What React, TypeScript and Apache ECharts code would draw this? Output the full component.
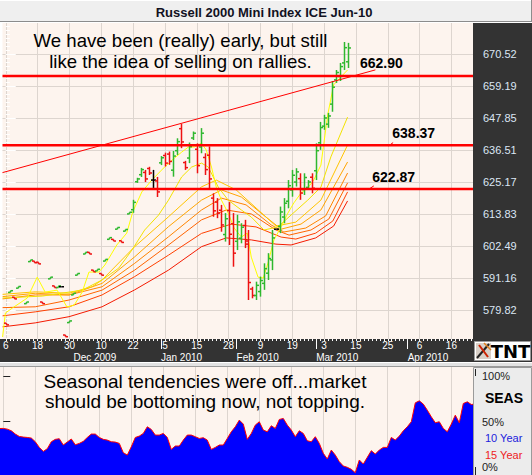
import React, { useEffect, useRef } from "react";
import * as echarts from "echarts";

// ---------- data ----------
const dayLabels = ["6", "18", "30", "10", "22", "5", "15", "28", "9", "19", "3", "15", "25", "6", "16"];
const dayLabelIdx = [0, 8, 16, 24, 32, 40, 48, 56, 64, 72, 80, 88, 96, 104, 112];
const monthLabels = ["Dec 2009", "Jan 2010", "Feb 2010", "Mar 2010", "Apr 2010"];
const monthIdx = [17, 39, 58, 78, 101];
const priceTicks = [579.82, 591.16, 602.49, 613.83, 625.17, 636.51, 647.85, 659.19, 670.52];
const seasTicks = [0, 50, 100];
const levels = [662.9, 638.37, 622.87];

// [index, open, high, low, close]
const ohlc = [
  [0, 575.3, 575.3, 574.7, 574.7], [1, 586.2, 586.8, 586.2, 586.8], [2, 584.5, 584.5, 583.9, 583.9],
  [3, 587.7, 588.3, 587.7, 588.3], [5, 582.2, 582.8, 582.2, 582.8], [6, 597.1, 597.7, 597.1, 597.7],
  [7, 597.3, 597.3, 596.7, 596.7], [8, 596.9, 596.9, 596.3, 596.3], [9, 582.8, 582.8, 582.2, 582.2],
  [11, 591.0, 591.6, 591.0, 591.6], [12, 588.5, 588.5, 587.9, 587.9], [13, 587.9, 588.5, 587.9, 588.5],
  [14, 588.2, 588.2, 588.2, 588.2], [15, 571.1, 571.1, 570.5, 570.5], [16, 575.5, 576.1, 575.5, 576.1],
  [17, 585.3, 585.9, 585.3, 585.9], [18, 592.3, 592.9, 592.3, 592.9], [20, 599.8, 600.4, 599.8, 600.4],
  [21, 600.4, 600.4, 599.8, 599.8], [22, 594.1, 594.1, 593.5, 593.5], [23, 593.8, 594.4, 593.8, 594.4],
  [24, 592.9, 592.9, 592.3, 592.3], [25, 597.3, 597.9, 597.3, 597.9], [26, 605.0, 605.6, 605.0, 605.6],
  [27, 605.0, 605.0, 604.4, 604.4], [28, 608.6, 609.2, 608.6, 609.2], [29, 604.5, 604.5, 603.9, 603.9],
  [30, 607.9, 608.5, 607.9, 608.5], [31, 614.0, 614.6, 614.0, 614.6],
  [32, 615.5, 619.0, 614.4, 618.1], [33, 625.4, 626.8, 625.0, 626.4], [34, 627.9, 630.3, 627.1, 629.7],
  [35, 628.7, 629.6, 625.3, 626.4], [36, 630.1, 630.7, 627.8, 628.5], [37, 626.0, 629.6, 623.2, 626.0],
  [38, 625.7, 627.1, 620.0, 621.8], [39, 632.1, 634.5, 631.3, 633.9], [40, 634.7, 635.7, 630.8, 632.0],
  [41, 635.2, 636.1, 631.4, 632.6], [42, 629.5, 636.3, 627.2, 634.5], [43, 636.4, 640.8, 634.9, 639.6],
  [44, 644.2, 645.9, 637.3, 639.5], [45, 632.2, 632.8, 629.6, 630.4], [46, 633.8, 639.3, 632.0, 637.8],
  [47, 640.9, 643.2, 640.2, 642.6], [48, 636.9, 639.0, 628.4, 631.1], [49, 637.7, 644.4, 635.5, 642.6],
  [50, 634.0, 635.5, 627.8, 629.7], [51, 634.8, 637.9, 622.5, 626.4], [52, 619.6, 621.3, 613.0, 615.1],
  [53, 618.2, 619.6, 612.5, 614.3], [54, 615.3, 617.2, 607.7, 610.1], [55, 606.7, 614.3, 604.2, 612.3],
  [56, 615.2, 618.2, 603.0, 606.8], [57, 610.5, 614.3, 595.3, 600.1], [58, 604.3, 613.7, 601.2, 611.2],
  [59, 605.4, 610.7, 603.6, 609.3], [60, 609.9, 611.9, 601.9, 604.4], [61, 603.3, 608.3, 583.5, 589.7],
  [62, 587.4, 588.2, 584.1, 585.1], [63, 585.1, 590.0, 583.5, 588.7], [64, 586.5, 591.8, 584.7, 590.4],
  [65, 589.4, 596.5, 587.1, 594.6], [66, 593.0, 600.1, 590.6, 598.2], [67, 597.7, 608.3, 594.1, 605.5],
  [68, 608.6, 608.6, 608.6, 608.6], [69, 609.6, 616.6, 607.2, 614.7], [70, 612.9, 619.6, 610.7, 617.8],
  [71, 618.5, 626.0, 616.0, 624.0], [72, 622.5, 629.6, 620.1, 627.7], [73, 625.3, 630.2, 623.7, 628.9],
  [74, 626.5, 628.4, 619.0, 621.4], [75, 622.6, 628.4, 620.7, 626.9], [76, 623.4, 626.0, 622.5, 625.3],
  [77, 627.0, 628.4, 621.3, 623.1], [78, 629.3, 639.0, 626.0, 636.4], [79, 639.2, 646.6, 636.7, 644.6],
  [80, 645.1, 649.1, 643.8, 648.0], [81, 645.8, 649.8, 644.5, 648.7], [82, 652.9, 661.1, 650.2, 658.9],
  [83, 661.5, 665.0, 660.4, 664.1], [84, 662.7, 667.5, 661.1, 666.2], [85, 667.5, 674.9, 665.0, 672.9],
  [86, 667.9, 674.6, 665.7, 672.8],
];

// moving averages, [index, price]
const ma1 = [[-0.8, 570.4], [-0.1, 578.9], [1.7, 580.7], [5.4, 584.2], [7.9, 591.6], [9.9, 586.3], [12.9, 587.0],
  [15.4, 581.0], [17.2, 581.7], [19.2, 586.3], [20.9, 593.4], [23.4, 593.4], [24.9, 595.9], [27.9, 603.0],
  [30.4, 607.2], [31.9, 614.7], [34.2, 621.8], [36.7, 626.0], [39.9, 630.6], [42.4, 633.8], [44.2, 635.9],
  [45.9, 637.7], [47.4, 637.7], [49.2, 639.1], [50.4, 636.6], [51.7, 630.6], [52.9, 623.5], [54.2, 618.9],
  [55.9, 614.3], [57.4, 609.0], [59.2, 605.8], [60.7, 607.2], [61.7, 598.7], [63.4, 591.6], [64.7, 591.3],
  [65.9, 596.6], [67.4, 604.8], [69.2, 609.4], [70.9, 614.3], [72.4, 617.9], [74.2, 621.4], [75.9, 623.2],
  [77.4, 626.0], [79.2, 631.3], [80.9, 649.0], [82.4, 659.7], [84.2, 662.5], [85.9, 665.0]];
const ma2 = [[-0.8, 584.2], [9.2, 584.9], [19.2, 587.0], [24.2, 590.6], [28.4, 594.8], [31.7, 601.2], [34.9, 608.3],
  [38.4, 613.6], [40.9, 618.9], [44.2, 627.1], [46.7, 630.6], [49.2, 632.0], [50.9, 630.6], [53.4, 623.5],
  [55.9, 618.9], [59.2, 615.4], [61.7, 612.9], [64.9, 608.3], [68.4, 609.4], [71.7, 613.6], [75.9, 618.9],
  [79.2, 623.5], [81.7, 634.2], [85.9, 648.3]];
const ma3 = [[-0.8, 585.5], [7.4, 586.4], [15.9, 585.9], [21.7, 588.2], [24.2, 590.6], [32.4, 602.4], [40.9, 613.0],
  [49.2, 623.6], [52.9, 626.0], [57.9, 622.5], [62.9, 616.1], [67.9, 609.7], [72.9, 611.1], [79.2, 618.9], [85.9, 638.4]];
const ma4 = [[-0.8, 584.7], [7.4, 585.9], [15.9, 585.3], [24.2, 589.4], [32.4, 598.8], [40.9, 609.5], [49.2, 618.9],
  [54.2, 622.5], [59.2, 620.0], [65.4, 612.9], [69.2, 608.6], [74.2, 610.4], [79.2, 615.4], [85.9, 632.4]];
const ma5 = [[-0.8, 583.9], [7.4, 585.3], [15.9, 585.3], [24.2, 588.2], [32.4, 596.5], [40.9, 605.9], [49.2, 615.4],
  [54.2, 619.6], [60.4, 617.2], [66.7, 610.1], [69.9, 607.6], [75.4, 609.0], [80.4, 613.3], [85.9, 628.5]];
const ma6 = [[-0.8, 580.8], [7.4, 581.1], [15.9, 583.5], [24.2, 587.0], [32.4, 594.1], [40.9, 603.0], [49.2, 611.9],
  [55.4, 615.4], [61.7, 614.0], [67.9, 608.3], [71.2, 606.5], [76.7, 608.3], [81.2, 612.2], [85.9, 625.0]];
const ma7 = [[-0.8, 577.9], [7.4, 579.3], [15.9, 581.1], [24.2, 585.3], [32.4, 591.8], [40.9, 599.4], [49.2, 607.1],
  [56.7, 610.4], [62.9, 609.4], [69.2, 605.8], [72.9, 605.1], [77.9, 607.2], [82.2, 611.5], [85.9, 621.8]];
const ma8 = [[-0.8, 574.0], [7.4, 575.4], [15.9, 577.6], [24.2, 581.1], [32.4, 587.1], [40.9, 594.1], [49.2, 602.4],
  [55.4, 605.5], [61.7, 604.8], [67.9, 603.3], [71.7, 603.0], [77.9, 605.5], [82.4, 609.7], [85.9, 618.6]];
const maColors = ["#ffff00", "#f2e200", "#ffc400", "#ffa400", "#ff8400", "#ff6400", "#ff4000", "#f41a00"];

// trendline [index, price]
const trend = [[-0.825, 628.64], [92.9, 665.03]];
const tick638 = [[96.2, 638.1], [97.35, 639.27]];
const tick622 = [[91.25, 622.76], [92.5, 623.93]];

// seasonal (percent), one per bar
const seasonal = [
  [-0.825, 42.5], [0, 42.6], [1, 41.8], [2, 40.0], [3, 36.4], [4, 33.8], [5, 33.1], [6, 32.7], [7, 32.0], [8, 28.0], [9, 21.8],
  [10, 17.4], [11, 20.4], [12, 28.0], [13, 30.6], [14, 31.3], [15, 24.4], [16, 27.7], [17, 31.0], [18, 24.7], [19, 26.2],
  [20, 28.4], [21, 32.7], [22, 36.4], [23, 36.4], [24, 32.7], [25, 30.6], [26, 29.8], [27, 28.0], [28, 27.6], [29, 26.2],
  [30, 16.0], [31, 13.4], [32, 22.5], [33, 32.7], [34, 34.2], [35, 37.1], [36, 44.4], [37, 41.5], [38, 35.3], [39, 35.3],
  [40, 37.1], [41, 32.7], [42, 19.6], [43, 23.3], [44, 23.3], [45, 29.8], [46, 35.3], [47, 35.3], [48, 33.5], [49, 31.6],
  [50, 32.4], [51, 29.8], [52, 19.6], [53, 21.8], [54, 24.4], [55, 24.4], [56, 31.6], [57, 38.9], [58, 44.4], [59, 51.7],
  [60, 47.3], [61, 30.6], [62, 37.1], [63, 46.2], [64, 49.9], [65, 40.8], [66, 38.9], [67, 45.5], [68, 42.6], [69, 52.4],
  [70, 53.5], [71, 46.2], [72, 40.8], [73, 33.5], [74, 40.0], [75, 37.1], [76, 29.1], [77, 28.0], [78, 33.5], [79, 26.2],
  [80, 15.3], [81, 9.1], [82, 18.9], [83, 13.4], [84, 6.2], [85, 1.4], [86, 0.0], [87, -2.2], [88, -5.9], [89, 8.0],
  [90, 3.6], [91, 10.9], [92, 18.2], [93, 14.5], [94, 18.9], [95, 21.8], [96, 21.8], [97, 32.7], [98, 29.8], [99, 34.2],
  [100, 40.0], [101, 44.4], [102, 49.9], [103, 70.6], [104, 72.8], [105, 69.2], [106, 62.6], [107, 55.3], [108, 48.8], [109, 49.9],
  [110, 42.6], [111, 38.9], [112, 47.3], [113, 57.1], [114, 48.8], [115, 69.9], [116, 71.7], [117, 68.8], [117.425, 69.0],
];

// ---------- layout ----------
const XMIN = -0.825, XMAX = 117.425;
const PMIN = 569.69, PMAX = 681.64;
const SMIN = -8.43, SMAX = 109.86;
const FONT = '"Liberation Sans", Arial, sans-serif';
const BG = "#fdf4ee";
const GRIDC = "#ddd5cf";

const allBars = Array.from({ length: 118 }, (_, i) => i);
const minorStep = (priceTicks[1] - priceTicks[0]) / 8;
const minorTicks: number[] = [];
for (let k = -16; k < 80; k++) {
  const v = priceTicks[0] + k * minorStep;
  if (v > PMIN && v < PMAX) minorTicks.push(+v.toFixed(3));
}

export default function App() {
  const ref = useRef<HTMLDivElement>(null);
  useEffect(() => {
    const chart = echarts.init(ref.current!, null, { renderer: "svg" });
    const maSeries = [ma1, ma2, ma3, ma4, ma5, ma6, ma7, ma8].map((d, k) => ({
      type: "line", xAxisIndex: 0, yAxisIndex: 0, data: d, symbol: "none", z: 2 + (k === 0 ? 1 : 0),
      lineStyle: { color: maColors[k], width: 1 }, silent: true,
    })).reverse();
    const levelSeries = levels.map((lv) => ({
      type: "line", xAxisIndex: 0, yAxisIndex: 0, data: [[XMIN, lv], [XMAX, lv]], symbol: "none", z: 5,
      lineStyle: { color: "#ff0000", width: 2.5 }, silent: true,
    }));
    const thin = (d: number[][]) => ({
      type: "line", xAxisIndex: 0, yAxisIndex: 0, data: d, symbol: "none", z: 5,
      lineStyle: { color: "#ff0000", width: 1 }, silent: true,
    });
    const txt = (x: number, y: number, text: string, font: string, fill = "#000", align = "left") => ({
      type: "text", x, y, z: 20,
      style: { text, font, fill, textAlign: align, textVerticalAlign: "middle" },
    });
    chart.setOption({
      animation: false,
      backgroundColor: "#ffffff",
      grid: [
        { left: 0, top: 23, width: 473, height: 316, show: true, backgroundColor: BG, borderWidth: 0 },
        { left: 0, top: 367, width: 473, height: 108, show: true, backgroundColor: BG, borderWidth: 0 },
      ],
      xAxis: [
        { // day labels + small ticks
          type: "value", gridIndex: 0, min: XMIN, max: XMAX, position: "bottom",
          axisLine: { show: false },
          axisTick: { show: true, customValues: allBars, length: 2, lineStyle: { color: "#ffffff" } },
          axisLabel: {
            customValues: dayLabelIdx, margin: 1, color: "#ffffff", fontSize: 10, lineHeight: 10, fontFamily: FONT,
            formatter: (v: number) => dayLabels[dayLabelIdx.indexOf(Math.round(v))] ?? "",
          },
          splitLine: { show: false },
        },
        { // month labels
          type: "value", gridIndex: 0, min: XMIN, max: XMAX, position: "bottom",
          axisLine: { show: false },
          axisTick: { show: true, customValues: monthIdx.slice(1), length: 10, lineStyle: { color: "#ffffff" } },
          axisLabel: {
            customValues: monthIdx, margin: 13, color: "#ffffff", fontSize: 10, lineHeight: 10, fontFamily: FONT, align: "left",
            formatter: (v: number) => monthLabels[monthIdx.indexOf(Math.round(v))] ?? "",
          },
          splitLine: { show: false },
        },
        { // vertical grid lines
          type: "value", gridIndex: 0, min: XMIN, max: XMAX, position: "top",
          axisLine: { show: false }, axisTick: { show: false, customValues: dayLabelIdx },
          axisLabel: { show: false, customValues: dayLabelIdx },
          splitLine: { show: true, lineStyle: { color: GRIDC, width: 1 } },
        },
        { // seasonal x
          type: "value", gridIndex: 1, min: XMIN, max: XMAX,
          axisLine: { show: false }, axisTick: { show: false, customValues: dayLabelIdx },
          axisLabel: { show: false, customValues: dayLabelIdx },
          splitLine: { show: true, lineStyle: { color: GRIDC, width: 1 } },
        },
      ],
      yAxis: [
        {
          type: "value", gridIndex: 0, min: PMIN, max: PMAX, position: "right",
          axisLine: { show: false },
          axisTick: { show: true, customValues: priceTicks, length: 10, lineStyle: { color: "#ffffff" } },
          axisLabel: {
            customValues: priceTicks, margin: 10, color: "#dce6f4", fontSize: 11, fontFamily: FONT,
            formatter: (v: number) => v.toFixed(2),
          },
          splitLine: { show: true, lineStyle: { color: GRIDC, width: 1 } },
        },
        {
          type: "value", gridIndex: 0, min: PMIN, max: PMAX, position: "right",
          axisLine: { show: false },
          axisTick: { show: true, customValues: minorTicks, length: 4, lineStyle: { color: "#ffffff" } },
          axisLabel: { show: false, customValues: minorTicks },
          splitLine: { show: false },
        },
        {
          type: "value", gridIndex: 1, min: SMIN, max: SMAX, position: "right",
          axisLine: { show: false },
          axisTick: { show: true, customValues: seasTicks, length: 7, lineStyle: { color: "#222222" } },
          axisLabel: {
            customValues: seasTicks, margin: 9, color: "#222222", fontSize: 11, fontFamily: FONT,
            formatter: (v: number) => `${v}%`,
          },
          splitLine: { show: false },
        },
      ],
      series: [
        ...maSeries,
        {
          type: "custom", xAxisIndex: 0, yAxisIndex: 0, z: 4, data: ohlc, silent: true,
          encode: { x: 0, y: [1, 2, 3, 4] },
          renderItem: (_p: any, api: any) => {
            const i = api.value(0), o = api.value(1), h = api.value(2), l = api.value(3), c = api.value(4);
            const ph = api.coord([i, h]), pl = api.coord([i, l]), po = api.coord([i, o]), pc = api.coord([i, c]);
            const color = c > o ? "#2fb82f" : c < o ? "#ee1111" : "#000000";
            const x = Math.round(ph[0]) + 0.5;
            const st = { stroke: color, lineWidth: 1.5 };
            const children: any[] = [];
            if (Math.abs(pl[1] - ph[1]) > 1) children.push({ type: "line", shape: { x1: x, y1: ph[1], x2: x, y2: pl[1] }, style: st });
            children.push({ type: "line", shape: { x1: x - 2.5, y1: po[1], x2: x, y2: po[1] }, style: st });
            children.push({ type: "line", shape: { x1: x, y1: pc[1], x2: x + 2.5, y2: pc[1] }, style: st });
            return { type: "group", children };
          },
        },
        ...levelSeries,
        thin(trend), thin(tick638), thin(tick622),
        {
          type: "line", xAxisIndex: 3, yAxisIndex: 2, data: seasonal, symbol: "none", silent: true,
          lineStyle: { color: "#ff0000", width: 1 },
          areaStyle: { color: "#0000ff", opacity: 1, origin: "start" },
        },
      ],
      graphic: [
        { type: "rect", z: -1, shape: { x: 0, y: 0, width: 532, height: 22 }, style: { fill: "#efefef" } },
        { type: "line", z: -1, shape: { x1: 0, y1: 0.5, x2: 532, y2: 0.5 }, style: { stroke: "#ffffff" } },
        { type: "line", z: -1, shape: { x1: 0, y1: 21.5, x2: 532, y2: 21.5 }, style: { stroke: "#8c8c8c" } },
        { type: "line", z: -1, shape: { x1: 531.5, y1: 0, x2: 531.5, y2: 22 }, style: { stroke: "#8c8c8c" } },
        txt(264, 12.5, "Russell 2000 Mini Index ICE Jun-10", `bold 13px ${FONT}`, "#111122", "center"),
        { type: "rect", z: -1, shape: { x: 473, y: 23, width: 59, height: 339 }, style: { fill: "#333333" } },
        { type: "rect", z: -1, shape: { x: 0, y: 339, width: 473, height: 23 }, style: { fill: "#333333" } },
        { type: "rect", z: -1, shape: { x: 0, y: 362, width: 532, height: 5 }, style: { fill: "#e2e2e2" } },
        { type: "line", z: -1, shape: { x1: 0, y1: 362.5, x2: 532, y2: 362.5 }, style: { stroke: "#ffffff" } },
        { type: "line", z: -1, shape: { x1: 0, y1: 366.5, x2: 532, y2: 366.5 }, style: { stroke: "#9a9a9a" } },
        { type: "rect", z: -1, shape: { x: 473.5, y: 367.5, width: 58, height: 108 }, style: { fill: "#ececec", stroke: "#9a9a9a" } },
        // seasonal axis corners
        { type: "line", z: 20, shape: { x1: 475.5, y1: 369, x2: 475.5, y2: 376 }, style: { stroke: "#222" } },
        { type: "line", z: 20, shape: { x1: 475.5, y1: 467, x2: 475.5, y2: 475 }, style: { stroke: "#222" } },
        // TNT logo
        { type: "rect", z: 10, shape: { x: 474.5, y: 341.5, width: 56, height: 19 }, style: { fill: "#ffffff", stroke: "#9a9a9a" } },
        { type: "rect", z: 11, shape: { x: 476, y: 343, width: 15, height: 16 }, style: { fill: "#d8d0c8" } },
        { type: "line", z: 12, shape: { x1: 477, y1: 358, x2: 489, y2: 344 }, style: { stroke: "#222", lineWidth: 2 } },
        { type: "line", z: 12, shape: { x1: 479, y1: 345, x2: 488, y2: 357 }, style: { stroke: "#cc2200", lineWidth: 2 } },
        { type: "line", z: 12, shape: { x1: 484, y1: 343, x2: 491, y2: 350 }, style: { stroke: "#e08020", lineWidth: 1.5 } },
        txt(510.5, 351.5, "TNT", `bold 18px "DejaVu Sans", sans-serif`, "#000000", "center"),
        // annotations
        txt(180.5, 40, "We have been (really) early, but still", `18.6px ${FONT}`, "#000", "center"),
        txt(180.5, 61.7, "like the idea of selling on rallies.", `18.6px ${FONT}`, "#000", "center"),
        txt(360, 63.3, levels[0].toFixed(2), `bold 14px ${FONT}`),
        txt(392.3, 132.7, levels[1].toFixed(2), `bold 14px ${FONT}`),
        txt(372.3, 176.7, levels[2].toFixed(2), `bold 14px ${FONT}`),
        txt(205, 381.7, "Seasonal tendencies were off...market", `19px ${FONT}`, "#000", "center"),
        txt(205, 401.7, "should be bottoming now, not topping.", `19px ${FONT}`, "#000", "center"),
        txt(504, 398, "SEAS", `bold 14px ${FONT}`, "#000", "center"),
        txt(485, 437.7, "10 Year", `11px ${FONT}`, "#2222dd"),
        txt(485, 454.7, "15 Year", `11px ${FONT}`, "#ee2222"),
      ],
    });
    return () => chart.dispose();
  }, []);
  return <div ref={ref} style={{ position: "fixed", left: 0, top: 0, width: 532, height: 475 }} />;
}
